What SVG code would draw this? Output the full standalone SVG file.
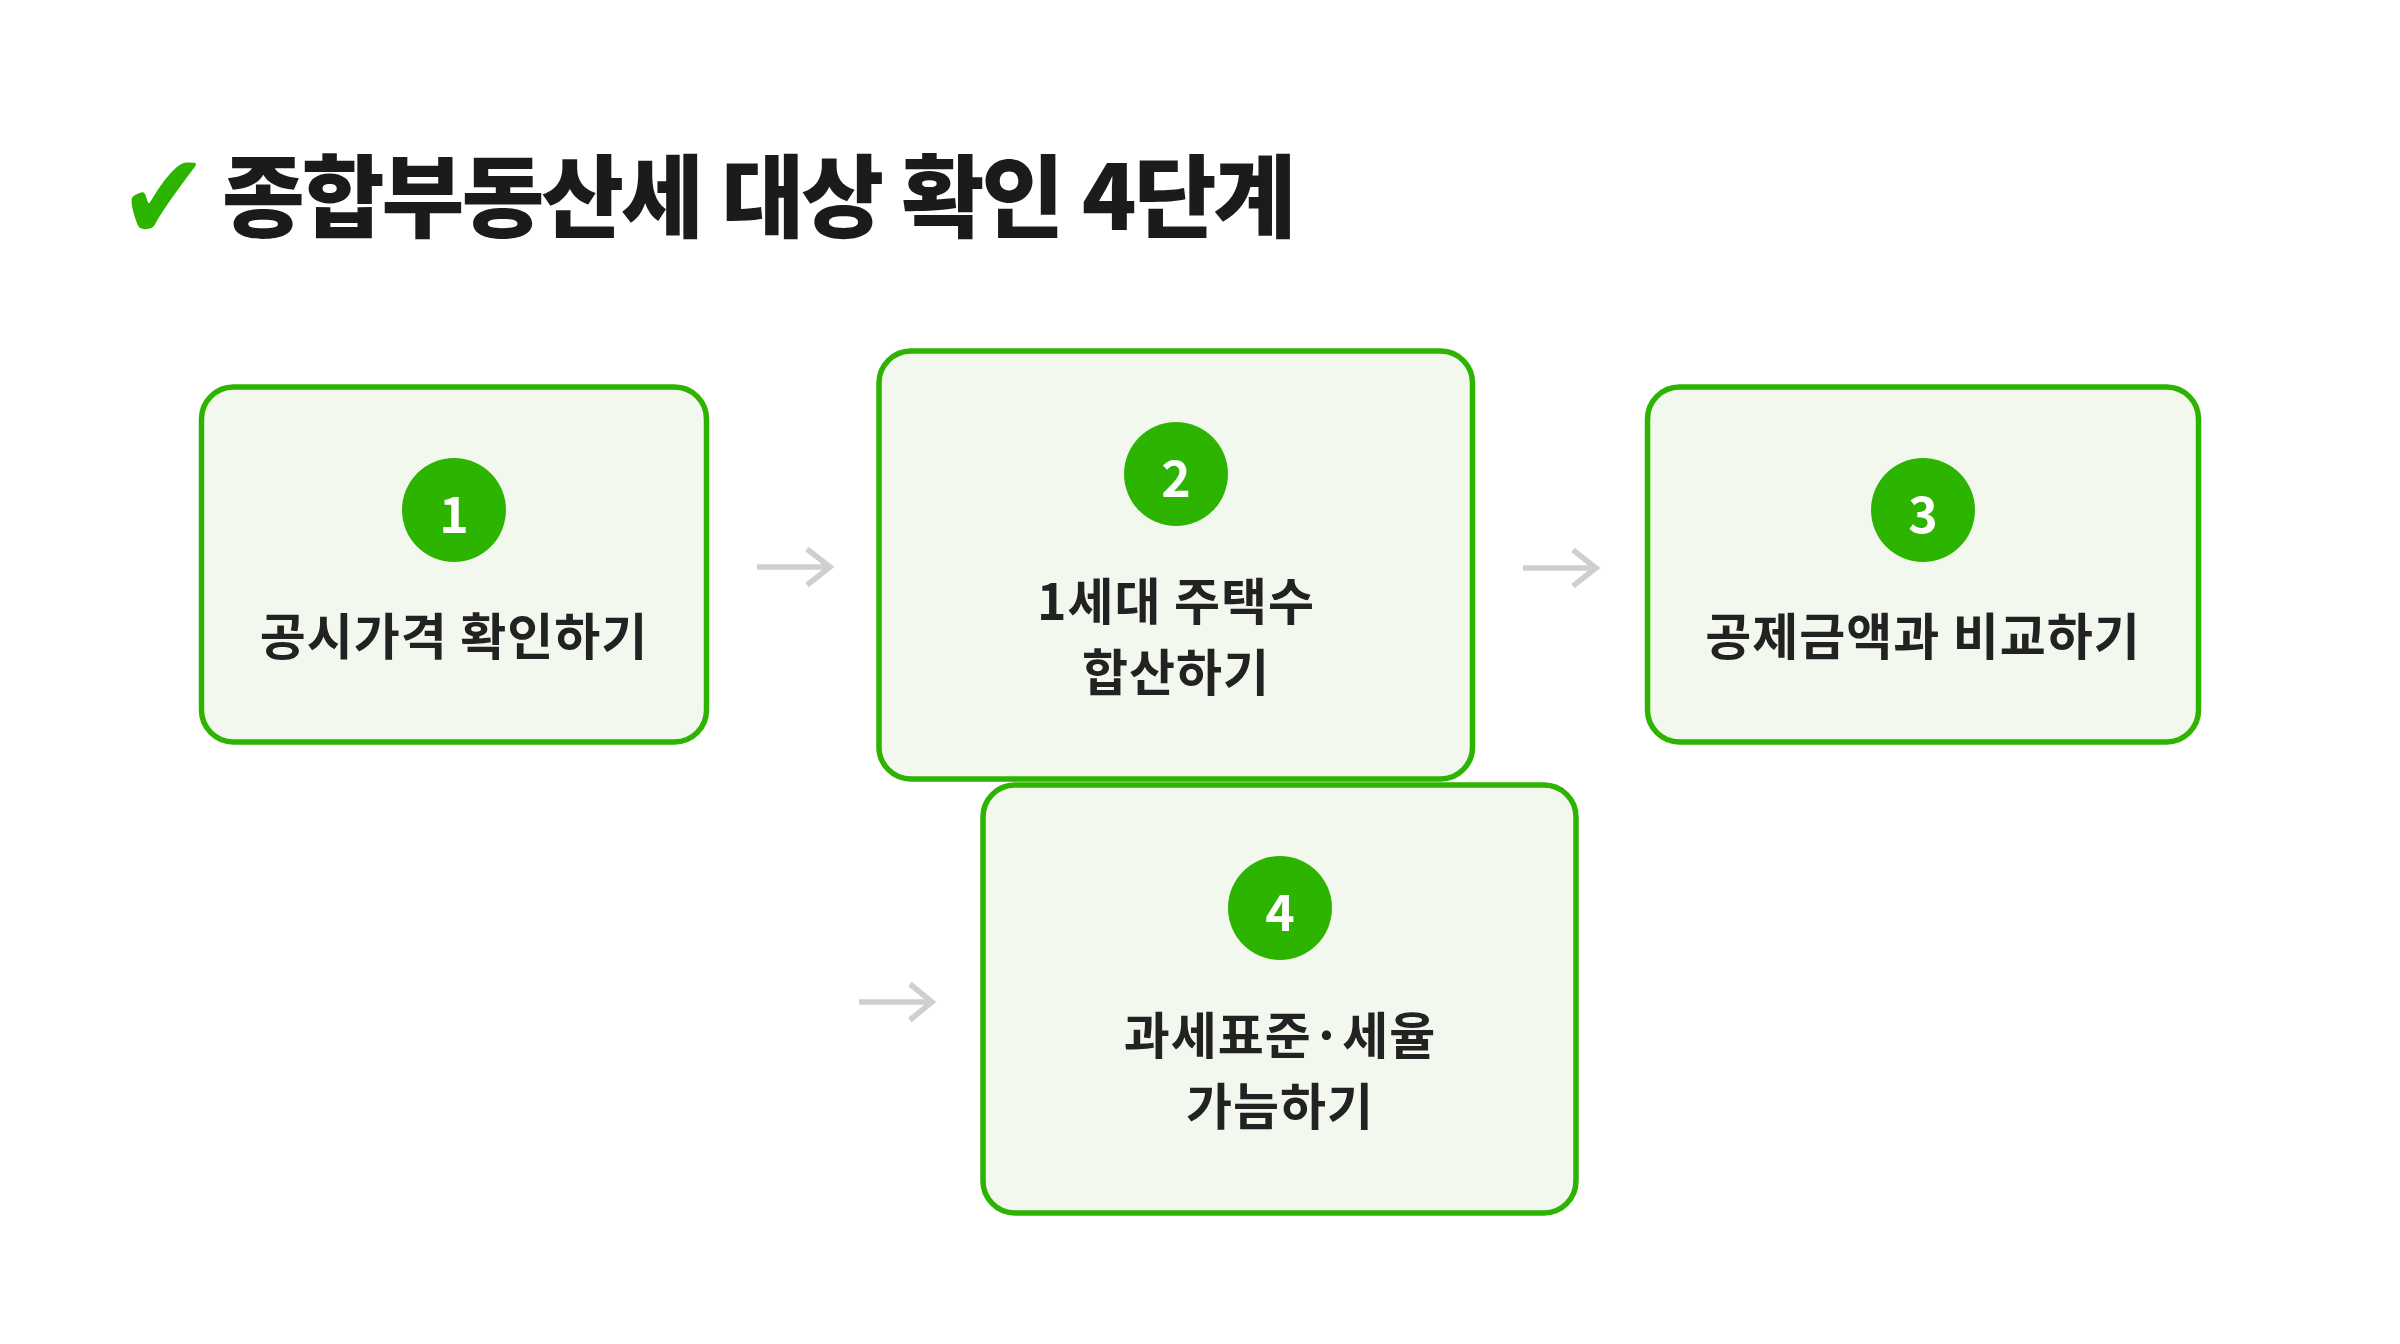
<svg xmlns="http://www.w3.org/2000/svg" width="2400" height="1344" viewBox="0 0 2400 1344">
  <style>
    .card { fill: #f3f8ef; stroke: #2db400; stroke-width: 5.5; }
    .badge { fill: #2db400; }
    .num { fill: #ffffff; font-family: "Noto Sans CJK KR", "Noto Sans", sans-serif; font-weight: 700; font-size: 50px; text-anchor: middle; }
    .label { fill: #222222; font-family: "Noto Sans CJK KR", sans-serif; font-weight: 700; font-size: 50px; letter-spacing: 1px; text-anchor: middle; }
    .title { fill: #1b1b1b; font-family: "Noto Sans CJK KR", sans-serif; font-weight: 900; font-size: 90px; letter-spacing: -3px; word-spacing: 3px; }
    .check { fill: #2db400; font-family: "DejaVu Sans", sans-serif; font-size: 118px; }
    .flow { fill: none; stroke: #cfcfcf; stroke-width: 5.5; stroke-linecap: butt; stroke-linejoin: miter; }
  </style>
  <rect width="2400" height="1344" fill="#ffffff"/>

  <!-- heading -->
  <g id="heading">
    <text class="check" transform="translate(130,232) scale(0.9,1.04)" x="-12" y="8">✔</text>
    <text class="title" x="222" y="230">종합부동산세 대상 확인 4단계</text>
  </g>

  <!-- flow arrows between the steps -->
  <g id="connectors">
    <path class="flow" d="M757,567 H830 M807,549 L830,567 L807,585"/>
    <path class="flow" d="M1523,568 H1596 M1573,550 L1596,568 L1573,586"/>
    <path class="flow" d="M859,1002 H932 M910,984 L932,1002 L910,1020"/>
  </g>

  <!-- step 1 -->
  <g id="step1">
    <rect class="card" x="201.5" y="387" width="505" height="355" rx="32"/>
    <circle class="badge" cx="454" cy="510" r="52"/>
    <text class="num" x="454" y="533">1</text>
    <text class="label" x="454" y="655">공시가격 확인하기</text>
  </g>

  <!-- step 2 -->
  <g id="step2">
    <rect class="card" x="879" y="351" width="593.5" height="428" rx="32"/>
    <circle class="badge" cx="1176" cy="474" r="52"/>
    <text class="num" x="1176" y="497">2</text>
    <text class="label" x="1176" y="620">1세대 주택수</text>
    <text class="label" x="1176" y="691">합산하기</text>
  </g>

  <!-- step 3 -->
  <g id="step3">
    <rect class="card" x="1647.5" y="387" width="551" height="355" rx="32"/>
    <circle class="badge" cx="1923" cy="510" r="52"/>
    <text class="num" x="1923" y="533">3</text>
    <text class="label" x="1923" y="655">공제금액과 비교하기</text>
  </g>

  <!-- step 4 -->
  <g id="step4">
    <rect class="card" x="983" y="785" width="593" height="428" rx="32"/>
    <circle class="badge" cx="1280" cy="908" r="52"/>
    <text class="num" x="1280" y="931">4</text>
    <text class="label" x="1280" y="1054">과세표준·세율</text>
    <text class="label" x="1280" y="1125">가늠하기</text>
  </g>
</svg>
